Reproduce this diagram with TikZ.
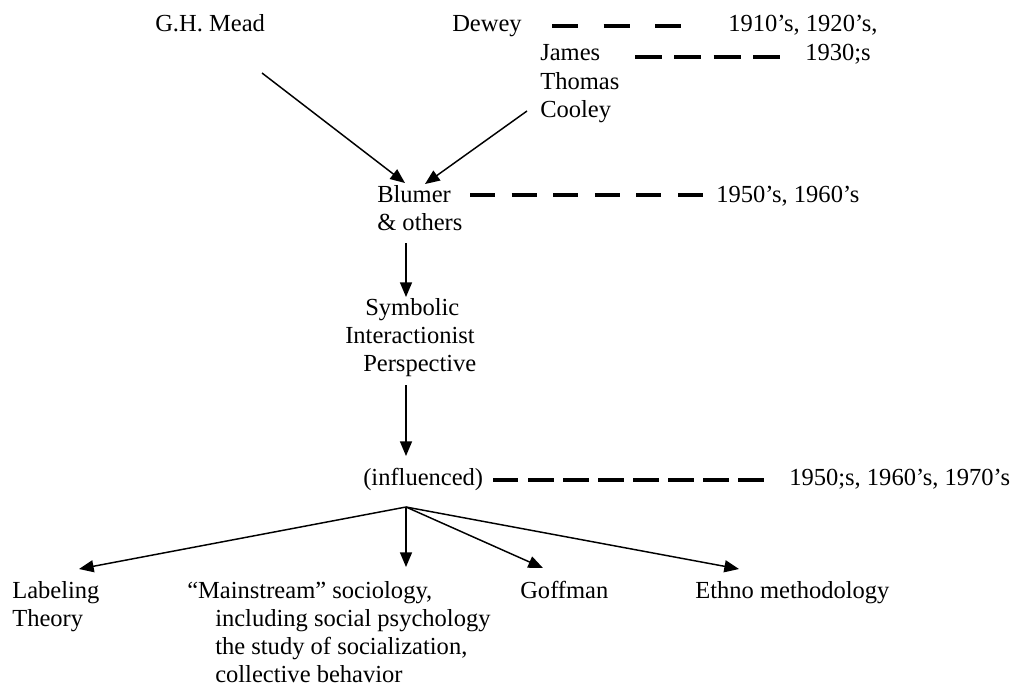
\documentclass[tikz,border=0pt]{standalone}
\usepackage{fontspec}
\setmainfont{Liberation Serif}
\usetikzlibrary{arrows.meta}
\begin{document}
\begin{tikzpicture}[x=0.75pt,y=-0.75pt,
  lbl/.style={anchor=base west,inner sep=0pt,font=\fontsize{18.4pt}{21pt}\selectfont},
  arr/.style={line width=1.1pt,-{Triangle[length=11pt,width=9pt]}},
  dashline/.style={line width=2.4pt}]
\useasboundingbox (0,0) rectangle (1013,686);
% text nodes
\node[lbl] (mead) at (155,31) {G.H. Mead};
\node[lbl] (dewey) at (452,31) {Dewey};
\node[lbl] (d1910) at (728,31) {1910’s, 1920’s,};
\node[lbl] (james) at (540,60) {James};
\node[lbl] (thomas) at (540,89) {Thomas};
\node[lbl] (cooley) at (540,117) {Cooley};
\node[lbl] (d1930) at (805,60) {1930;s};
\node[lbl] (blumer) at (377,202) {Blumer};
\node[lbl] (others) at (377,230) {\& others};
\node[lbl] (d1950) at (716,202) {1950’s, 1960’s};
\node[lbl] (sym1) at (365,315) {Symbolic};
\node[lbl] (sym2) at (345,343) {Interactionist};
\node[lbl] (sym3) at (363,371) {Perspective};
\node[lbl] (infl) at (363,485) {(influenced)};
\node[lbl] (d1970) at (789,485) {1950;s, 1960’s, 1970’s};
\node[lbl] (lab1) at (12,598) {Labeling};
\node[lbl] (lab2) at (12,626) {Theory};
\node[lbl] (ms1) at (187,598) {“Mainstream” sociology,};
\node[lbl] (ms2) at (215,626) {including social psychology};
\node[lbl] (ms3) at (215,654) {the study of socialization,};
\node[lbl] (ms4) at (215,682) {collective behavior};
\node[lbl] (goff) at (520,598) {Goffman};
\node[lbl] (ethno) at (695,598) {Ethno methodology};
% connector end points
\coordinate (meadS) at (262,73);
\coordinate (cooleyS) at (527,111);
\coordinate (blumerT1) at (405,183);
\coordinate (blumerT2) at (425,184);
\coordinate (othersS) at (406,243);
\coordinate (symT) at (406,297);
\coordinate (symS) at (406,385);
\coordinate (inflT) at (406,456);
\coordinate (br) at (406,507);
\coordinate (labT) at (79,569);
\coordinate (msT) at (406,567);
\coordinate (goffT) at (543,568);
\coordinate (ethnoT) at (739,569);
% arrows
\draw[arr] (meadS) -- (blumerT1);
\draw[arr] (cooleyS) -- (blumerT2);
\draw[arr] (othersS) -- (symT);
\draw[arr] (symS) -- (inflT);
\draw[arr] (br) -- (labT);
\draw[arr] (br) -- (msT);
\draw[arr] (br) -- (goffT);
\draw[arr] (br) -- (ethnoT);
% dashed time lines
\coordinate (a1) at (552,26); \coordinate (a2) at (682,26);
\coordinate (b1) at (635,57); \coordinate (b2) at (780,57);
\coordinate (c1) at (470,195); \coordinate (c2) at (703,195);
\coordinate (e1) at (493,480); \coordinate (e2) at (764,480);
\draw[dashline,dash pattern=on 19.5pt off 19.2pt] (a1) -- (a2);
\draw[dashline,dash pattern=on 20.25pt off 9.25pt] (b1) -- (b2);
\draw[dashline,dash pattern=on 18.75pt off 12.45pt] (c1) -- (c2);
\draw[dashline,dash pattern=on 19.1pt off 7.2pt] (e1) -- (e2);
\end{tikzpicture}
\end{document}
